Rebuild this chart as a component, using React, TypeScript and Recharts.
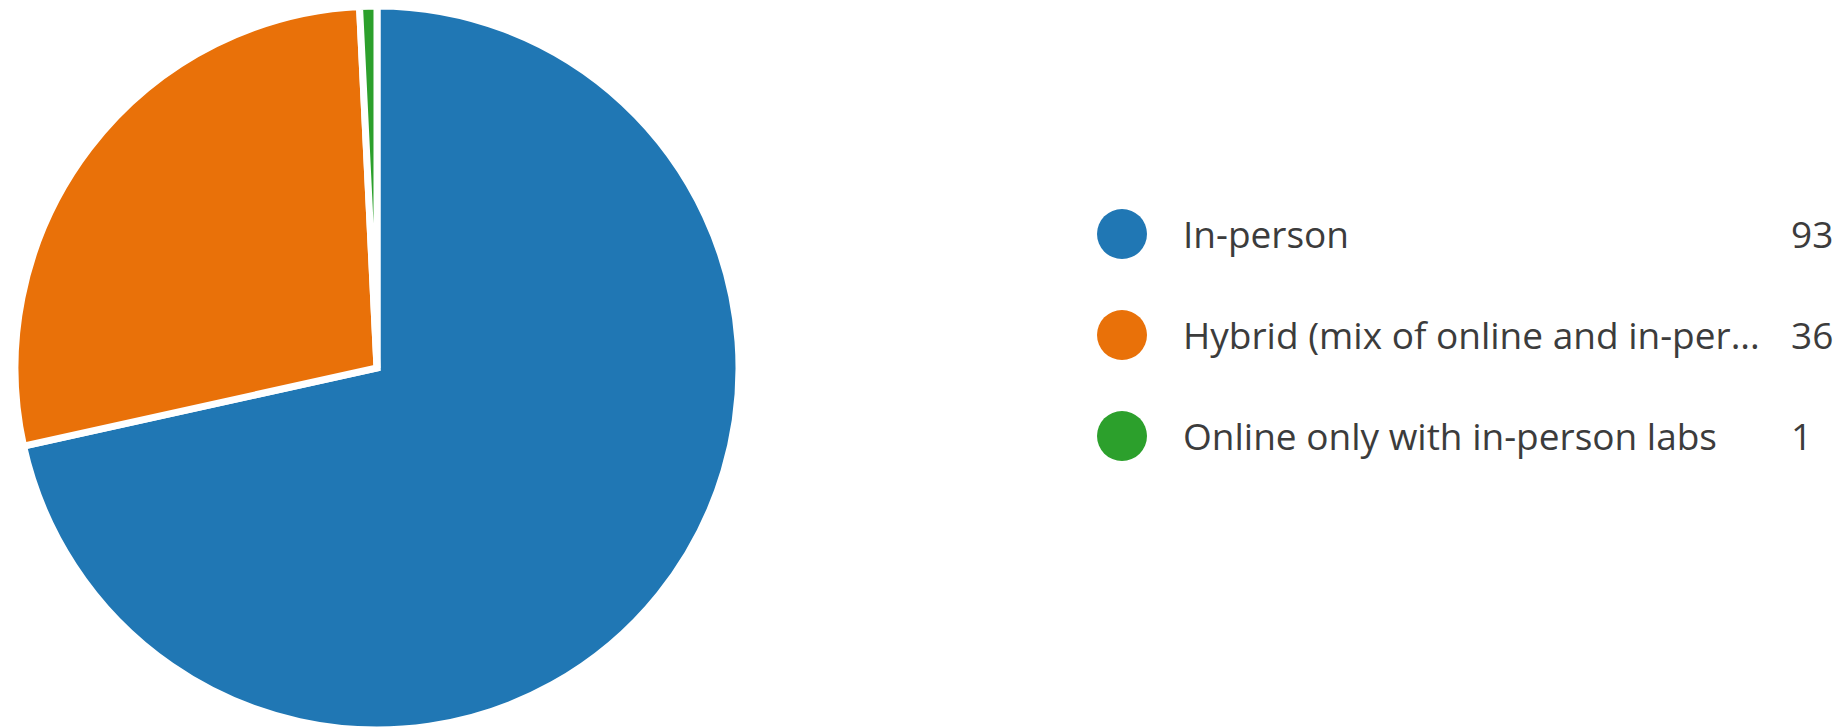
import { PieChart, Pie, Cell, Legend } from 'recharts';

const categories = ['In-person', 'Hybrid (mix of online and in-per...', 'Online only with in-person labs'];
const counts = [93, 36, 1];
const colors = ['#2077b4', '#e97109', '#2ca02c'];

const chartData = categories.map((name, i) => ({ name, value: counts[i] }));

// legend rows: dot, label, count
const LegendBox = () => (
  <div style={{ fontFamily: '"Open Sans", "Noto Sans", sans-serif', fontSize: 37, color: '#3c3c3c' }}>
    {chartData.map((d, i) => (
      <div key={d.name} style={{ display: 'flex', alignItems: 'center', height: 101 }}>
        <span
          style={{
            width: 50,
            height: 50,
            borderRadius: '50%',
            background: colors[i],
            display: 'inline-block',
            flexShrink: 0,
          }}
        />
        <span style={{ marginLeft: 36, width: 608, whiteSpace: 'nowrap' }}>{d.name}</span>
        <span style={{ whiteSpace: 'nowrap' }}>{d.value}</span>
      </div>
    ))}
  </div>
);

export default function App() {
  return (
    <div style={{ position: 'absolute', left: 0, top: 0, width: 1848, height: 727, background: '#fff' }}>
      <PieChart width={1848} height={727}>
        <Pie
          data={chartData}
          dataKey="value"
          nameKey="name"
          cx={372}
          cy={363}
          outerRadius={362}
          startAngle={90}
          endAngle={-270}
          stroke="#fff"
          strokeWidth={7}
          isAnimationActive={false}
        >
          {chartData.map((d, i) => (
            <Cell key={d.name} fill={colors[i]} />
          ))}
        </Pie>
        <Legend
          layout="vertical"
          content={() => <LegendBox />}
          wrapperStyle={{ left: 1097, top: 183, width: 740, bottom: 'auto' }}
        />
      </PieChart>
    </div>
  );
}
